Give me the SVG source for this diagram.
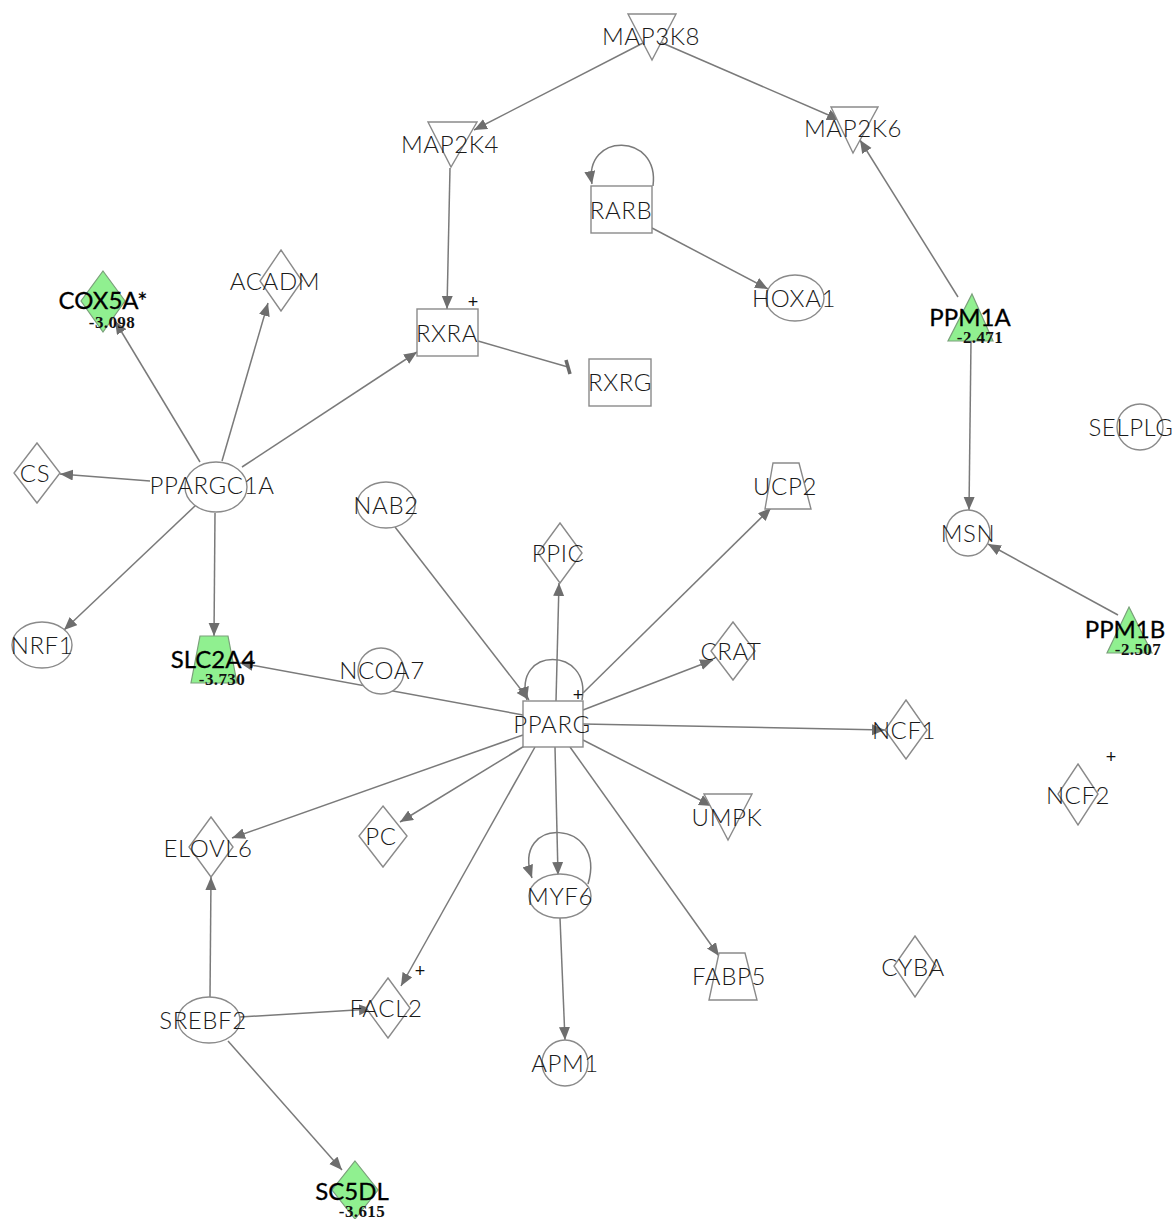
<svg xmlns="http://www.w3.org/2000/svg" width="1174" height="1219" viewBox="0 0 1174 1219">
<defs>
<marker id="arr" markerUnits="userSpaceOnUse" markerWidth="14" markerHeight="12" refX="13" refY="5.5" orient="auto">
<path d="M0,0 L13,5.5 L0,11 z" fill="#6e6e6e"/>
</marker>
</defs>
<style>
.e{stroke:#7a7a7a;stroke-width:1.5;fill:none}
.ea{stroke:#7a7a7a;stroke-width:1.5;fill:none;marker-end:url(#arr)}
.n{fill:#fff;stroke:#8a8a8a;stroke-width:1.4}
.g{fill:#90f090;stroke:#7aa07a;stroke-width:1.2}
.t{font-family:Lato,"DejaVu Sans",sans-serif;font-size:24px;font-weight:300;letter-spacing:0.6px;fill:#1a1a1a;text-anchor:middle}
.tb{font-family:Lato,"DejaVu Sans",sans-serif;font-size:24px;fill:#000;text-anchor:middle;stroke:#000;stroke-width:0.3}
.v{font-family:"Liberation Serif",serif;font-weight:bold;font-size:17px;letter-spacing:0.4px;fill:#111;text-anchor:middle}
.p{font-family:"Liberation Sans",sans-serif;font-size:18px;fill:#111;text-anchor:middle}
</style>
<rect width="1174" height="1219" fill="#fff"/>
<g id="edges">
<line class="ea" x1="645" y1="42" x2="474" y2="130"/>
<line class="ea" x1="660" y1="42" x2="840" y2="120"/>
<line class="ea" x1="450" y1="168" x2="447" y2="309"/>
<path class="ea" d="M653,186 C660,132 583,132 592,184"/>
<line class="ea" x1="652" y1="228" x2="768" y2="289"/>
<line class="e" x1="478" y1="341" x2="568" y2="367"/>
<line x1="566" y1="360" x2="570" y2="374" stroke="#6a6a6a" stroke-width="3.5"/>
<line class="ea" x1="958" y1="297" x2="860" y2="140"/>
<line class="ea" x1="971" y1="341" x2="969" y2="510"/>
<line class="ea" x1="1118" y1="615" x2="988" y2="544"/>
<line class="ea" x1="200" y1="462" x2="115" y2="321"/>
<line class="ea" x1="222" y1="461" x2="268" y2="303"/>
<line class="ea" x1="242" y1="467" x2="417" y2="352"/>
<line class="ea" x1="150" y1="481" x2="60" y2="474"/>
<line class="ea" x1="196" y1="505" x2="64" y2="630"/>
<line class="ea" x1="215" y1="513" x2="214" y2="636"/>
<line class="ea" x1="523" y1="715" x2="240" y2="663"/>
<line class="ea" x1="395" y1="527" x2="529" y2="700"/>
<path class="ea" d="M582,700 C592,646 512,646 527,700"/>
<line class="ea" x1="556" y1="701" x2="559" y2="583"/>
<line class="ea" x1="583" y1="693" x2="771" y2="508"/>
<line class="ea" x1="583" y1="710" x2="713" y2="660"/>
<line class="ea" x1="583" y1="724" x2="885" y2="730"/>
<line class="ea" x1="583" y1="740" x2="712" y2="806"/>
<line class="ea" x1="570" y1="747" x2="719" y2="956"/>
<line class="ea" x1="555" y1="747" x2="558" y2="875"/>
<path class="ea" d="M588,884 C608,818 510,815 532,878"/>
<line class="ea" x1="560" y1="918" x2="565" y2="1040"/>
<line class="ea" x1="535" y1="747" x2="401" y2="986"/>
<line class="ea" x1="526" y1="745" x2="400" y2="822"/>
<line class="ea" x1="523" y1="735" x2="232" y2="838"/>
<line class="ea" x1="210" y1="997" x2="211" y2="877"/>
<line class="ea" x1="240" y1="1017" x2="372" y2="1009"/>
<line class="ea" x1="228" y1="1041" x2="342" y2="1170"/>
</g>
<g id="MAP3K8"><polygon class="n" points="628,14 676,14 652,60"/><text class="t" x="651" y="45">MAP3K8</text></g>
<g id="MAP2K4"><polygon class="n" points="428,122 477,122 451,167"/><text class="t" x="450" y="153">MAP2K4</text></g>
<g id="MAP2K6"><polygon class="n" points="831,107 878,107 853,153"/><text class="t" x="853" y="137">MAP2K6</text></g>
<g id="RARB"><rect class="n" x="591" y="186" width="61" height="47"/><text class="t" x="621" y="219">RARB</text></g>
<g id="HOXA1"><ellipse class="n" cx="795" cy="298" rx="29" ry="23"/><text class="t" x="794" y="307">HOXA1</text></g>
<g id="RXRA"><rect class="n" x="417" y="309" width="61" height="47"/><text class="t" x="447" y="342">RXRA</text><text class="p" x="473" y="308">+</text></g>
<g id="RXRG"><rect class="n" x="589" y="359" width="62" height="47"/><text class="t" x="620" y="391">RXRG</text></g>
<g id="COX5A"><polygon class="g" points="103,271 125,301 103,332 81,301"/><text class="tb" x="103" y="309">COX5A*</text><text class="v" x="112" y="328">-3.098</text></g>
<g id="ACADM"><polygon class="n" points="281,250 302,281 281,311 260,281"/><text class="t" x="275" y="290">ACADM</text></g>
<g id="CS"><polygon class="n" points="37,443 60,473 37,503 14,473"/><text class="t" x="35" y="482">CS</text></g>
<g id="PPARGC1A"><ellipse class="n" cx="216" cy="487" rx="31" ry="25"/><text class="t" x="212" y="494">PPARGC1A</text></g>
<g id="NRF1"><ellipse class="n" cx="42" cy="645" rx="30" ry="23"/><text class="t" x="42" y="654">NRF1</text></g>
<g id="SLC2A4"><polygon class="g" points="200,636 228,636 237,683 191,683"/><text class="tb" x="213" y="668">SLC2A4</text><text class="v" x="222" y="685">-3.730</text></g>
<g id="NCOA7"><ellipse class="n" cx="381" cy="671" rx="23" ry="23"/><text class="t" x="382" y="679">NCOA7</text></g>
<g id="NAB2"><ellipse class="n" cx="386" cy="505" rx="29" ry="23"/><text class="t" x="386" y="514">NAB2</text></g>
<g id="PPIC"><polygon class="n" points="560,523 582,553 560,583 538,553"/><text class="t" x="558" y="562">PPIC</text></g>
<g id="UCP2"><polygon class="n" points="773,463 799,463 811,509 765,509"/><text class="t" x="785" y="495">UCP2</text></g>
<g id="CRAT"><polygon class="n" points="733,622 755,651 733,680 711,651"/><text class="t" x="731" y="660">CRAT</text></g>
<g id="PPARG"><rect class="n" x="523" y="701" width="60" height="46"/><text class="t" x="552" y="733">PPARG</text><text class="p" x="578" y="701">+</text></g>
<g id="NCF1"><polygon class="n" points="906,700 927,730 906,759 885,730"/><text class="t" x="904" y="739">NCF1</text></g>
<g id="UMPK"><polygon class="n" points="704,794 752,794 728,840"/><text class="t" x="727" y="826">UMPK</text></g>
<g id="MYF6"><ellipse class="n" cx="560" cy="896" rx="31" ry="22"/><text class="t" x="560" y="905">MYF6</text></g>
<g id="APM1"><ellipse class="n" cx="565" cy="1063" rx="23" ry="23"/><text class="t" x="565" y="1072">APM1</text></g>
<g id="FABP5"><polygon class="n" points="719,953 745,953 757,1000 709,1000"/><text class="t" x="729" y="985">FABP5</text></g>
<g id="CYBA"><polygon class="n" points="915,936 936,966 915,997 894,966"/><text class="t" x="913" y="976">CYBA</text></g>
<g id="ELOVL6"><polygon class="n" points="211,817 233,847 211,877 189,847"/><text class="t" x="208" y="857">ELOVL6</text></g>
<g id="PC"><polygon class="n" points="383,806 407,836 383,867 359,836"/><text class="t" x="381" y="845">PC</text></g>
<g id="SREBF2"><ellipse class="n" cx="209" cy="1020" rx="31" ry="23"/><text class="t" x="203" y="1029">SREBF2</text></g>
<g id="FACL2"><polygon class="n" points="388,978 410,1008 388,1038 366,1008"/><text class="t" x="386" y="1017">FACL2</text><text class="p" x="420" y="977">+</text></g>
<g id="SC5DL"><polygon class="g" points="355,1161 378,1190 355,1219 332,1190"/><text class="tb" x="352" y="1200">SC5DL</text><text class="v" x="362" y="1217">-3.615</text></g>
<g id="PPM1A"><polygon class="g" points="972,294 993,341 948,341"/><text class="tb" x="970" y="326">PPM1A</text><text class="v" x="980" y="343">-2.471</text></g>
<g id="MSN"><ellipse class="n" cx="968" cy="533" rx="22" ry="23"/><text class="t" x="968" y="542">MSN</text></g>
<g id="SELPLG"><ellipse class="n" cx="1140" cy="427" rx="23" ry="23"/><text class="t" x="1131" y="436">SELPLG</text></g>
<g id="PPM1B"><polygon class="g" points="1129,607 1152,653 1107,653"/><text class="tb" x="1125" y="638">PPM1B</text><text class="v" x="1138" y="655">-2.507</text></g>
<g id="NCF2"><polygon class="n" points="1078,764 1098,794 1078,825 1058,794"/><text class="t" x="1078" y="804">NCF2</text><text class="p" x="1111" y="763">+</text></g>
</svg>
